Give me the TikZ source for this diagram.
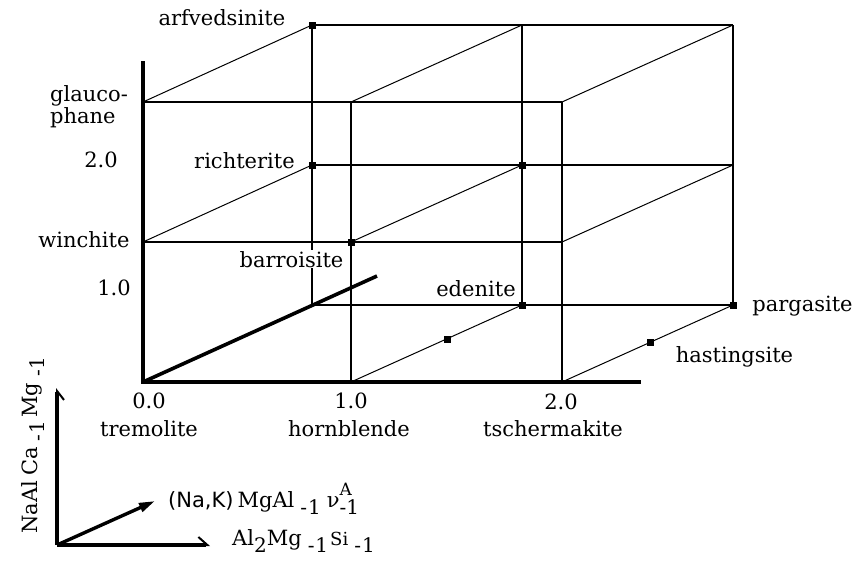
\documentclass[tikz,border=0pt]{standalone}
\usepackage{fontspec}
\setmainfont{DejaVu Serif}
\setsansfont{DejaVu Sans}
\usetikzlibrary{arrows.meta}
\newcommand{\mysub}[1]{\kern6pt\raisebox{-7pt}{\fontsize{20}{22}\selectfont #1}\kern2pt}
\begin{document}
\begin{tikzpicture}[x=1pt,y=-1pt,
  gridline/.style={line width=1.3pt},
  diagline/.style={line width=1pt},
  axisline/.style={line width=3.6pt},
  lbl/.style={anchor=base, inner sep=0pt, font=\fontsize{21}{24}\selectfont},
  dotmark/.style={fill=black, rectangle, minimum size=7pt, inner sep=0pt},
  legline/.style={line width=3.4pt}
]
\useasboundingbox (0,0) rectangle (864,571);
% front face grid points
\coordinate (F00) at (143,382); \coordinate (F10) at (351,382); \coordinate (F20) at (562,382);
\coordinate (F01) at (143,242); \coordinate (F11) at (351,242); \coordinate (F21) at (562,242);
\coordinate (F02) at (143,102); \coordinate (F12) at (351,102); \coordinate (F22) at (562,102);
% back face grid points
\coordinate (B00) at (312,305); \coordinate (B10) at (522,305); \coordinate (B20) at (733,305);
\coordinate (B01) at (312,165); \coordinate (B11) at (522,165); \coordinate (B21) at (733,165);
\coordinate (B02) at (312,25);  \coordinate (B12) at (522,25);  \coordinate (B22) at (733,25);
% axis ends
\coordinate (Ytop) at (143,61);
\coordinate (Xend) at (641,382);
\coordinate (Xstart) at (141,382);
\coordinate (Zend) at (377,276);

% front face lines
\draw[gridline] (F02) -- (F22);
\draw[gridline] (F01) -- (F21);
\draw[gridline] (F12) -- (F10);
\draw[gridline] (F22) -- (F20);
% back face lines
\draw[gridline] (B02) -- (B22);
\draw[gridline] (B01) -- (B21);
\draw[gridline] (B00) -- (B20);
\draw[gridline] (B02) -- (B00);
\draw[gridline] (B12) -- (B10);
\draw[gridline] (B22) -- (B20);
% depth lines
\draw[diagline] (F02) -- (B02);
\draw[diagline] (F12) -- (B12);
\draw[diagline] (F22) -- (B22);
\draw[diagline] (F01) -- (B01);
\draw[diagline] (F11) -- (B11);
\draw[diagline] (F21) -- (B21);
\draw[diagline] (F10) -- (B10);
\draw[diagline] (F20) -- (B20);
% axes
\draw[axisline] (F00) -- (Ytop);
\draw[axisline] (Xstart) -- (Xend);
\draw[axisline] (F00) -- (Zend);

% dots
\node[dotmark] (dA) at (B02) {};
\node[dotmark] (dR) at (B01) {};
\node[dotmark] (dB) at (F11) {};
\node[dotmark] (dM) at (B11) {};
\node[dotmark] (dE) at (B10) {};
\node[dotmark] (dP) at (B20) {};
\node[dotmark] (dH1) at (447,339) {};
\node[dotmark] (dH2) at (650,342) {};

% labels
\node[lbl] (arf) at (222,25) {arfvedsinite};
\node[lbl, anchor=base west] (gla) at (50,101) {glauco-};
\node[lbl, anchor=base west] (pha) at (50,123) {phane};
\node[lbl] (ytwo) at (101,167) {2.0};
\node[lbl] (ric) at (244.5,168) {richterite};
\node[lbl] (win) at (84,247) {winchite};
\node[lbl, fill=white, inner sep=1pt] (bar) at (291.5,267) {barroisite};
\node[lbl] (yone) at (114,295) {1.0};
\node[lbl] (ede) at (476,296) {edenite};
\node[lbl] (par) at (802.5,311) {pargasite};
\node[lbl] (has) at (734.5,362) {hastingsite};
\node[lbl] (xzero) at (149,408) {0.0};
\node[lbl] (tre) at (149,436) {tremolite};
\node[lbl] (xone) at (351,408) {1.0};
\node[lbl] (hor) at (349,436) {hornblende};
\node[lbl] (xtwo) at (561,409) {2.0};
\node[lbl] (tsc) at (553,436) {tschermakite};

% legend
\coordinate (L0) at (57,545);
\coordinate (Lup) at (57,388);
\coordinate (Lright) at (210,545);
\coordinate (Ldiag) at (155,501);
\draw[legline, -{Straight Barb[right, length=9pt, width=14pt, line width=2pt]}] (L0) -- (Lup);
\draw[legline, -{Straight Barb[left, length=9pt, width=16pt, line width=2pt]}] (L0) -- (Lright);
\draw[legline, -{Triangle[length=16pt, width=9pt]}] (L0) -- (Ldiag);
\node[lbl, rotate=90] (lv) at (37,444) {NaAl\kern5pt Ca\mysub{-\kern1pt 1}\kern1pt Mg\mysub{-\kern1pt 1}};
\node[lbl, anchor=base west] (ld) at (168,507) {{\sffamily\fontsize{21}{24}\selectfont (Na,K)}\kern4pt MgAl\mysub{-\kern1pt 1}\kern4ptν\rlap{\raisebox{12pt}{\fontsize{17}{20}\selectfont A}}\raisebox{-7pt}{\fontsize{20}{22}\selectfont -1}};
\node[lbl, anchor=base west] (lh) at (232,545) {Al\raisebox{-7pt}{\fontsize{20}{22}\selectfont 2}Mg\mysub{-\kern1pt 1}{\fontsize{18}{20}\selectfont Si}\mysub{-\kern1pt 1}};
\end{tikzpicture}
\end{document}
